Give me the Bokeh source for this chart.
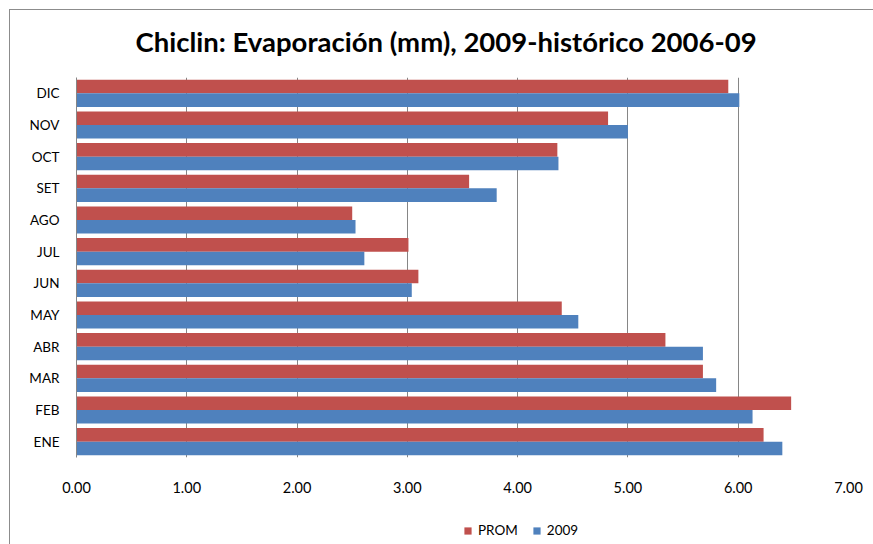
from bokeh.plotting import figure
from bokeh.layouts import column
from bokeh.models import (ColumnDataSource, FactorRange, Legend, LegendItem, FixedTicker,
                          CustomJSTickFormatter, InlineStyleSheet)
from bokeh.transform import dodge
from bokeh.embed import file_html
from bokeh.resources import INLINE

months = ["ENE", "FEB", "MAR", "ABR", "MAY", "JUN", "JUL", "AGO", "SET", "OCT", "NOV", "DIC"]
prom = [6.23, 6.48, 5.68, 5.34, 4.40, 3.10, 3.01, 2.50, 3.56, 4.36, 4.82, 5.91]
y2009 = [6.40, 6.13, 5.80, 5.68, 4.55, 3.04, 2.61, 2.53, 3.81, 4.37, 5.00, 6.01]
x_ticks = [0, 1, 2, 3, 4, 5, 6, 7]
series_names = ["PROM", "2009"]
colors = ["#C0504D", "#4F81BD"]

src = ColumnDataSource(dict(month=months, prom=prom, y2009=y2009))

FONT = "Lato"

p = figure(
    width=873, height=512,
    y_range=FactorRange(*months), x_range=(0, 7),
    output_backend="svg", toolbar_location=None,
    min_border_left=76, min_border_right=25, min_border_top=77, min_border_bottom=55,
    title="Chiclin: Evaporación (mm), 2009-histórico 2006-09",
)

r_prom = p.hbar(y=dodge("month", 0.215, range=p.y_range), right="prom", left=0, height=0.43,
                source=src, fill_color=colors[0], line_color=None)
r_2009 = p.hbar(y=dodge("month", -0.215, range=p.y_range), right="y2009", left=0, height=0.43,
                source=src, fill_color=colors[1], line_color=None)

p.title.align = "left"
p.title.offset = 59
p.title.text_font = FONT
p.title.text_font_style = "bold"
p.title.text_font_size = "27.5px"
p.title.text_color = "#000000"
p.title.standoff = 40

p.outline_line_color = None
p.background_fill_color = "white"
p.border_fill_color = "white"

p.xaxis.ticker = FixedTicker(ticks=x_ticks)
p.xaxis.formatter = CustomJSTickFormatter(code="return tick.toFixed(2);")
p.xaxis.axis_line_color = None
p.xaxis.major_tick_line_color = None
p.xaxis.minor_tick_line_color = None
p.xaxis.major_tick_out = 0
p.xaxis.major_label_standoff = 24
p.xaxis.major_label_text_font = FONT
p.xaxis.major_label_text_font_size = "14.5px"
p.xaxis.major_label_text_color = "#000000"

p.yaxis.axis_line_color = "#868686"
p.yaxis.major_tick_line_color = None
p.yaxis.minor_tick_line_color = None
p.yaxis.major_tick_out = 0
p.yaxis.major_label_standoff = 17
p.yaxis.major_label_text_font = FONT
p.yaxis.major_label_text_font_size = "13.5px"
p.yaxis.major_label_text_color = "#000000"

p.xgrid.grid_line_color = "#868686"
p.xgrid.ticker = FixedTicker(ticks=x_ticks)
p.ygrid.grid_line_color = None

# legend strip below the chart (renderers hidden, only used for the legend swatches)
p2 = figure(width=873, height=32, x_range=(0, 1), y_range=(0, 1),
            output_backend="svg", toolbar_location=None,
            min_border_left=0, min_border_right=0, min_border_top=0, min_border_bottom=0)
p2.axis.visible = False
p2.grid.visible = False
p2.outline_line_color = None
p2.border_fill_color = "white"
l1 = p2.hbar(y=-5, right="prom", height=0.1, source=src, fill_color=colors[0], line_color=None, visible=False)
l2 = p2.hbar(y=-5, right="y2009", height=0.1, source=src, fill_color=colors[1], line_color=None, visible=False)
legend = Legend(items=[LegendItem(label=series_names[0], renderers=[l1]),
                       LegendItem(label=series_names[1], renderers=[l2])],
                orientation="horizontal", location=(387, 6),
                label_text_font=FONT, label_text_font_size="13.5px", label_text_color="#000000",
                glyph_width=9, glyph_height=9, spacing=14, label_standoff=6,
                border_line_color=None, background_fill_alpha=0, margin=0, padding=2)
p2.add_layout(legend)

layout = column(p, p2, spacing=0)
layout.stylesheets = [InlineStyleSheet(css=":host { position: relative; } :host::after { content: ''; position: absolute; left: 9px; top: 9px; right: 0; bottom: 0; border-left: 1px solid #8c8c8c; border-top: 1px solid #8c8c8c; pointer-events: none; }")]

open("out.html", "w").write(file_html(layout, INLINE))
